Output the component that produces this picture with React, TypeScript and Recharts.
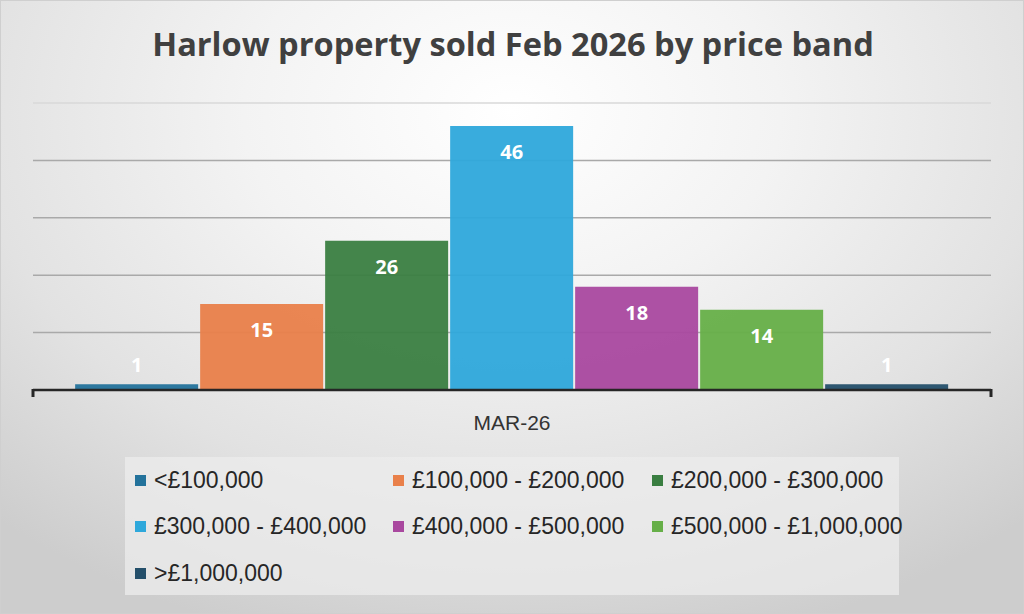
import React from 'react'
import { Bar, BarChart, CartesianGrid, LabelList, Legend, XAxis, YAxis } from 'recharts'

const CATEGORIES = ['MAR-26']

const BANDS = [
  '<£100,000',
  '£100,000 - £200,000',
  '£200,000 - £300,000',
  '£300,000 - £400,000',
  '£400,000 - £500,000',
  '£500,000 - £1,000,000',
  '>£1,000,000',
]

const SOLD = [1, 15, 26, 46, 18, 14, 1]

const BAND_COLORS = ['#23729b', '#e9804a', '#3a7e41', '#2ea8db', '#a9489f', '#66af48', '#244f6a']

const Y_TICKS = [0, 10, 20, 30, 40, 50]

const WIDTH = 1024
const HEIGHT = 614
const X_AXIS_HEIGHT = 30
const MARGIN = { top: 103, right: 33, bottom: 224 - X_AXIS_HEIGHT, left: 33 }
const BAND_HALF = (WIDTH - MARGIN.left - MARGIN.right) / 2 / CATEGORIES.length

const data = CATEGORIES.map((month) => {
  const row: Record<string, string | number> = { month }
  BANDS.forEach((_, i) => {
    row[`b${i}`] = SOLD[i]
  })
  return row
})

function ValueLabel(props: any) {
  const x = Number(props.x)
  const y = Number(props.y)
  const width = Number(props.width)
  const height = Number(props.height)
  const cy = height > 40 ? y + 26 : y - 20
  return (
    <text
      x={x + width / 2}
      y={cy}
      textAnchor="middle"
      dominantBaseline="central"
      fill="#ffffff"
      fontFamily="'Open Sans', sans-serif"
      fontWeight={700}
      fontSize={20}
    >
      {props.value}
    </text>
  )
}

function MonthTick(props: any) {
  const { x, y, payload } = props
  return (
    <g>
      <line x1={x - BAND_HALF} y1={y - 1} x2={x - BAND_HALF} y2={y + 7} stroke="#262626" strokeWidth={3} />
      <line x1={x + BAND_HALF} y1={y - 1} x2={x + BAND_HALF} y2={y + 7} stroke="#262626" strokeWidth={3} />
      <text
        x={x}
        y={y + 40}
        textAnchor="middle"
        fill="#333333"
        fontFamily="'Liberation Sans', Arial, sans-serif"
        fontSize={21}
      >
        {payload.value}
      </text>
    </g>
  )
}

function GridLine(props: any) {
  const top = props.index === Y_TICKS.length - 1
  return (
    <line
      key={`grid-${props.index}`}
      x1={props.x1}
      y1={props.y1}
      x2={props.x2}
      y2={props.y2}
      stroke={top ? '#d9d9d9' : '#a9a9a9'}
      strokeWidth={1.5}
    />
  )
}

function LegendBox(props: any) {
  const items = [...(props.payload || [])].sort(
    (a: any, b: any) => BANDS.indexOf(a.value) - BANDS.indexOf(b.value),
  )
  return (
    <div
      style={{
        width: '100%',
        height: '100%',
        boxSizing: 'border-box',
        background: 'rgba(236,236,236,0.75)',
        paddingLeft: 10,
        display: 'grid',
        gridTemplateColumns: '258px 259px 1fr',
        gridAutoRows: '46.5px',
        fontFamily: "'Liberation Sans', Arial, sans-serif",
        fontSize: 23,
        color: '#262626',
      }}
    >
      {items.map((item: any) => (
        <div key={item.value} style={{ display: 'flex', alignItems: 'center', whiteSpace: 'nowrap' }}>
          <span
            style={{
              display: 'inline-block',
              width: 11,
              height: 11,
              background: item.color,
              marginRight: 8,
            }}
          />
          {item.value}
        </div>
      ))}
    </div>
  )
}

export default function App() {
  return (
    <div
      style={{
        position: 'relative',
        width: WIDTH,
        height: HEIGHT,
        boxSizing: 'border-box',
        border: '1px solid #cfcfcf',
        background:
          'radial-gradient(ellipse 75% 90% at 50% 18%, #ffffff 0%, #f3f3f3 35%, #e2e2e2 70%, #cdcdcd 100%)',
        overflow: 'hidden',
      }}
    >
      <style>{'body{margin:0}'}</style>
      <div
        style={{
          position: 'absolute',
          left: 0,
          top: 18,
          width: WIDTH,
          textAlign: 'center',
          fontFamily: "'Open Sans', sans-serif",
          fontWeight: 700,
          fontSize: 32.6,
          lineHeight: '50px',
          color: '#404040',
        }}
      >
        Harlow property sold Feb 2026 by price band
      </div>
      <div style={{ position: 'absolute', left: -1, top: -1 }}>
        <BarChart
          width={WIDTH}
          height={HEIGHT}
          data={data}
          margin={MARGIN}
          barCategoryGap="4.4%"
          barGap={2}
        >
          <CartesianGrid vertical={false} horizontal={GridLine} />
          <YAxis hide domain={[0, 50]} ticks={Y_TICKS} />
          <XAxis
            dataKey="month"
            height={X_AXIS_HEIGHT}
            axisLine={{ stroke: '#262626', strokeWidth: 2.5 }}
            tickLine={false}
            tickSize={0}
            tickMargin={0}
            tick={MonthTick}
            interval={0}
          />
          <Legend
            layout="horizontal"
            verticalAlign="middle"
            align="center"
            itemSorter={null}
            content={LegendBox}
            wrapperStyle={{ position: 'absolute', left: 125, top: 457, width: 774, height: 138 }}
          />
          {BANDS.map((band, i) => (
            <Bar
              key={band}
              dataKey={`b${i}`}
              name={band}
              fill={BAND_COLORS[i]}
              fillOpacity={0.95}
              isAnimationActive={false}
            >
              <LabelList dataKey={`b${i}`} content={ValueLabel} />
            </Bar>
          ))}
        </BarChart>
      </div>
    </div>
  )
}
